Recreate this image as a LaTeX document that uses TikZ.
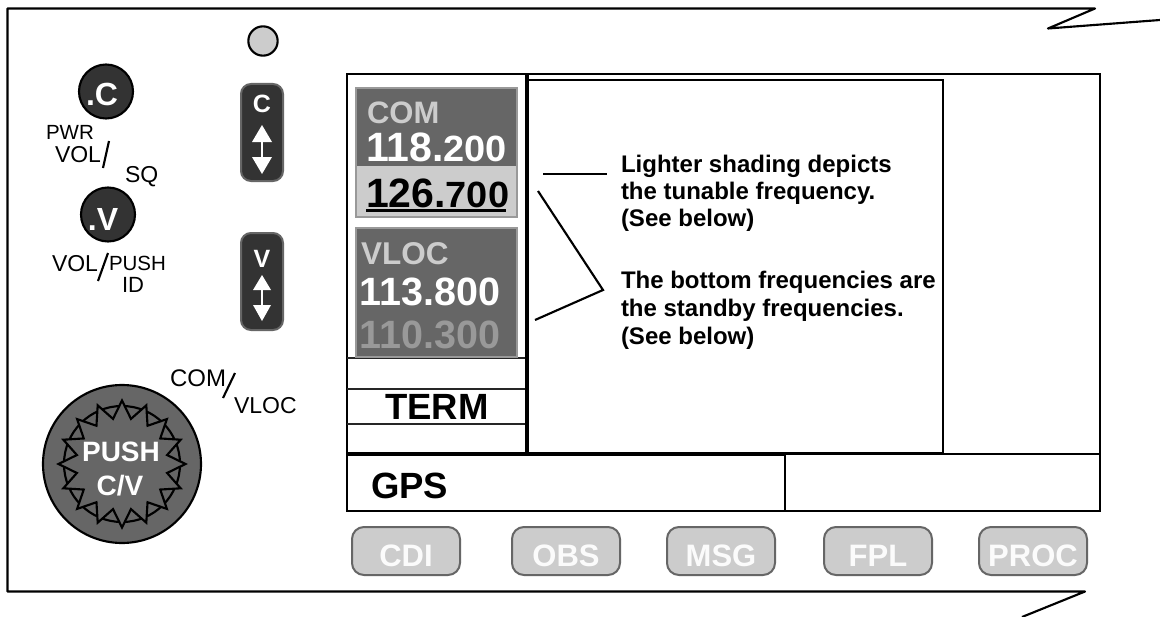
\documentclass[tikz,border=0pt]{standalone}
\usepackage{fontspec}
\setmainfont{Liberation Sans}
\definecolor{dk}{HTML}{333333}
\definecolor{md}{HTML}{666666}
\definecolor{lt}{HTML}{CCCCCC}
\definecolor{gr}{HTML}{999999}
\newcommand{\fx}[1]{\fontsize{\dimexpr#1pt*3/4\relax}{\dimexpr#1pt*9/10\relax}\selectfont}
\tikzset{
  lab/.style={inner sep=0pt,outer sep=0pt,anchor=base west,text=black},
  labc/.style={inner sep=0pt,outer sep=0pt,anchor=base,text=black},
  panel/.style={draw=black,line width=1.6pt},
  heavy/.style={draw=black,line width=2.4pt},
  thin line/.style={draw=black!85,line width=1.6pt},
  pointer/.style={draw=black,line width=1.6pt},
  knob/.style={circle,draw=black,line width=1.6pt,fill=dk,minimum size=#1,inner sep=0pt},
  rocker/.style={draw=md,fill=dk,line width=1.5pt,rounded corners=7.5pt},
  softkey/.style={draw=md,fill=lt,line width=1.5pt,rounded corners=9pt},
  freq/.style={draw=gr,fill=md,line width=1.5pt},
  keytext/.style={labc,text=white!93!lt,font=\bfseries\fx{31}},
  arrowhead/.style={fill=white,draw=none},
  note/.style={lab,font=\bfseries\fx{24}},
}
\begin{document}
\begin{tikzpicture}[x=0.75pt,y=-0.75pt]
\useasboundingbox (0,0) rectangle (1160,617);
\fill[white] (0,0) rectangle (1160,617);
% chassis outline
\coordinate (tr1) at (1095,8.5); \coordinate (tr2) at (1048,28.5); \coordinate (tr3) at (1160,20);
\coordinate (ot) at (7.5,8.5); \coordinate (ob) at (7.5,591.5);
\coordinate (br1) at (1085,591.5); \coordinate (br2) at (1022,617);
\draw[panel,line join=round] (br2) -- (br1) -- (ob) -- (ot) -- (tr1) -- (tr2) -- (tr3);
% screen
\draw[panel] (347,74) rectangle (1100,511);
\draw[panel] (527,80) rectangle (943,453.5);
\draw[heavy] (527,74) -- (527,454);
\draw[panel] (347,454) -- (1100,454);
\draw[heavy] (347,454) -- (785,454);
\draw[panel] (785,454) -- (785,511);
\draw[thin line] (347,358) -- (525,358);
\draw[thin line] (347,389) -- (525,389);
\draw[thin line] (347,424) -- (525,424);
% COM window
\filldraw[freq] (356,88) rectangle (517,217);
\fill[lt] (356.8,166) rectangle (516.2,216.2);
\node[lab,text=lt,font=\bfseries\fx{31}] (com) at (367,123) {COM};
\node[lab,text=white,font=\bfseries] (f1) at (366,161) {\fx{41}118.\scalebox{1.04}[1]{\fx{36.5}200}};
\node[lab,font=\bfseries] (f2) at (366,207) {\fx{41}126.\scalebox{1.04}[1]{\fx{36.5}700}};
\draw[line width=1.6pt] (366,210.5) -- (506,210.5);
% VLOC window
\filldraw[freq] (356,228) rectangle (517,357);
\node[lab,text=lt,font=\bfseries\fx{31.5}] (vl) at (361,264) {VLOC};
\node[lab,text=white,font=\bfseries\fx{39.5}] (f3) at (359.5,305) {113.800};
\node[lab,text=gr,font=\bfseries\fx{39.5}] (f4) at (359.5,348) {110.300};
\node[lab,font=\bfseries\fx{36.5}] (term) at (385,419) {TERM};
\node[lab,font=\bfseries\fx{36.5}] (gps) at (371,498) {GPS};
% soft keys
\foreach \nm/\xa/\tx in {k1/352/CDI,k2/512/OBS,k3/667/MSG,k4/824/FPL,k5/979/PROC}{
  \draw[softkey] (\xa,527) rectangle ++(108,48);
  \node[keytext] (\nm) at (\xa+54,566) {\tx};
}
% LED
\node[knob=22pt,fill=lt] (led) at (263,41) {};
% small knobs
\node[knob=40.5pt] (kc) at (106,91.5) {};
\node[knob=40.5pt] (kv) at (108,214.5) {};
\node[labc,text=white,font=\bfseries\fx{32}] (kct) at (102,106) {.C};
\node[labc,text=white,font=\bfseries\fx{32}] (kvt) at (103,230) {.V};
% rockers
\draw[rocker] (241,84) rectangle (283,181);
\draw[rocker] (241,233) rectangle (283,330);
\node[labc,text=white,font=\bfseries\fx{25}] (rc) at (262,113) {C};
\node[labc,text=white,font=\bfseries\fx{25}] (rv) at (262,267) {V};
\fill[arrowhead] (262,125) -- (272,142) -- (252,142) -- cycle;
\fill[arrowhead] (262,174) -- (272,157) -- (252,157) -- cycle;
\draw[white,line width=1.3pt] (262,142) -- (262,157);
\fill[arrowhead] (262,275) -- (271,290) -- (253,290) -- cycle;
\fill[arrowhead] (262,321) -- (271,305) -- (253,305) -- cycle;
\draw[white,line width=1.3pt] (262,290) -- (262,305);
% knob labels
\node[lab,font=\fx{20.5}] (pwr) at (46,139) {PWR};
\node[lab,font=\fx{23}] (vol1) at (55,162) {VOL};
\node[lab,font=\fx{23}] (sq) at (125,182) {SQ};
\draw[pointer] (109,141) -- (103,168);
\node[lab,font=\fx{23}] (vol2) at (52,271) {VOL};
\node[lab,font=\fx{20.5}] (push) at (109,270) {PUSH};
\node[lab,font=\fx{22}] (id) at (122,292) {ID};
\draw[pointer] (108,253) -- (98,281);
\node[lab,font=\fx{24}] (coml) at (170,386) {COM};
\node[lab,font=\fx{23}] (vlocl) at (234,413) {VLOC};
\draw[pointer] (235,373) -- (223,398);
% big knob
\fill[md,draw=black,line width=1.6pt] (122,464) circle (79);
\draw[black,line width=1.6pt] (122,464) circle (58);
\draw[black,line width=1.6pt,fill=md,line join=miter]
  \foreach \i in {0,...,15}{ \ifnum\i=0 (122+63.5,464) \else -- ({122+63.5*cos(\i*22.5)},{464+63.5*sin(\i*22.5)}) \fi -- ({122+46*cos(\i*22.5+11.25)},{464+46*sin(\i*22.5+11.25)}) } -- cycle;
\node[labc,text=white,font=\bfseries\fx{28}] (bk1) at (121,461) {PUSH};
\node[labc,text=white,font=\bfseries\fx{28}] (bk2) at (120,495) {C/V};
% annotations
\node[note] (a1) at (621,172) {Lighter shading depicts};
\node[note] (a2) at (621,199.5) {the tunable frequency.};
\node[note] (a3) at (621,226.5) {(See below)};
\node[note] (b1) at (621,288) {The bottom frequencies are};
\node[note] (b2) at (621,316.5) {the standby frequencies.};
\node[note] (b3) at (621,344.5) {(See below)};
\coordinate (p1) at (543,174); \coordinate (p2) at (607,174);
\coordinate (q1) at (538,191); \coordinate (q2) at (603,290); \coordinate (q3) at (535,320);
\draw[pointer] (p1) -- (p2);
\draw[pointer] (q1) -- (q2) -- (q3);
\end{tikzpicture}
\end{document}
